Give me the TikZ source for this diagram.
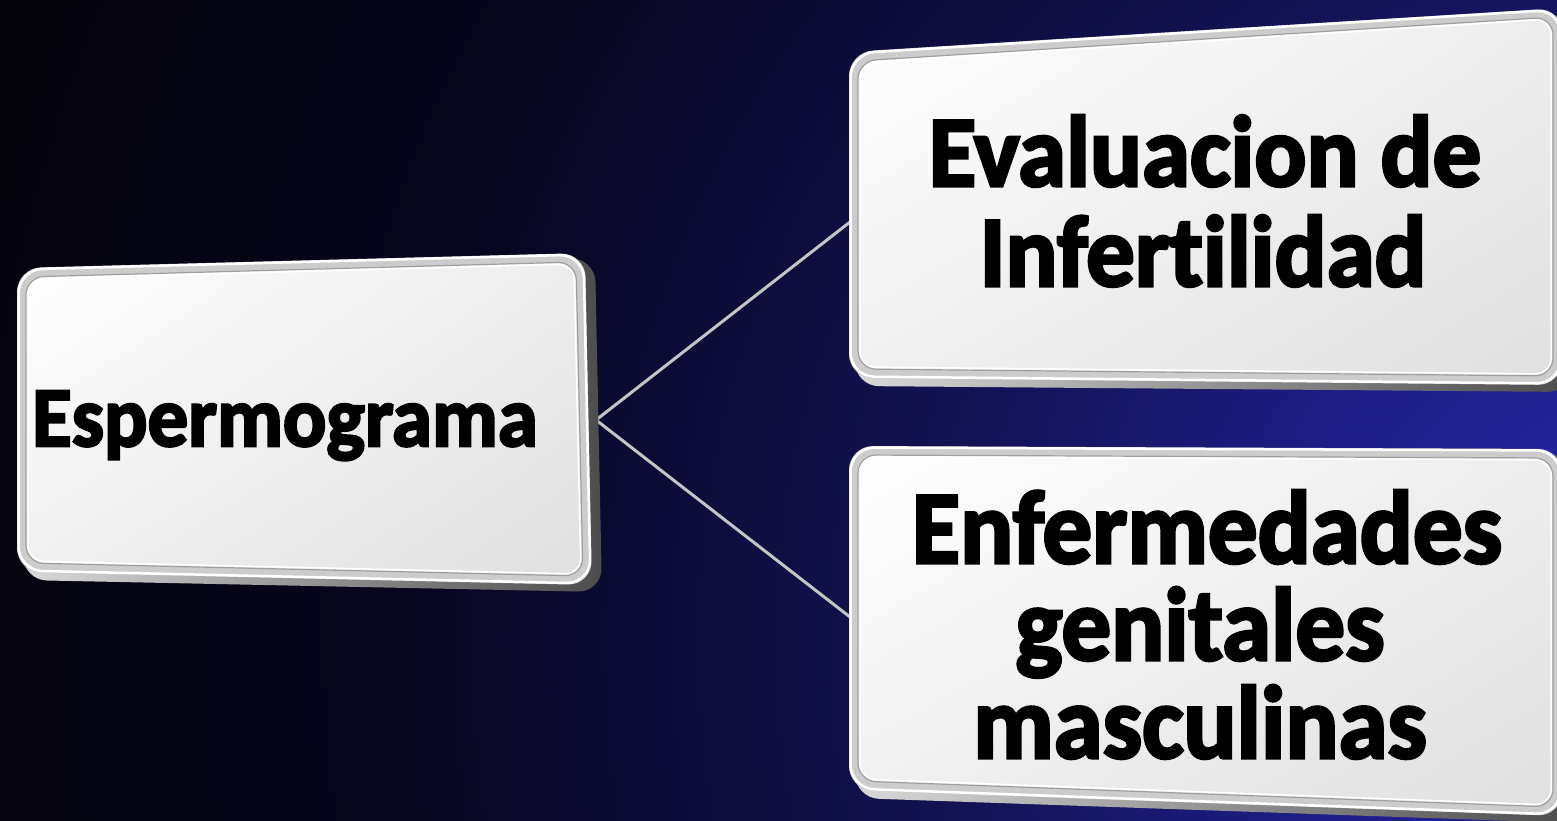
\documentclass[tikz,border=0pt]{standalone}
\usepackage{fontspec}
\setmainfont{Carlito}[Ligatures=NoCommon, BoldFeatures={FakeBold=3}]
\usetikzlibrary{calc,shadings}
\definecolor{bgdark}{HTML}{030206}
\definecolor{bgmid}{HTML}{07061E}
\definecolor{bgblue}{HTML}{2828B4}
\definecolor{linkgray}{HTML}{C4C4C4}
\pgfdeclareradialshading{bgglow}{\pgfpoint{0bp}{0bp}}{%
  color(0bp)=(bgblue);
  color(3bp)=(bgblue!75!bgmid);
  color(7bp)=(bgblue!35!bgmid);
  color(12bp)=(bgmid);
  color(18bp)=(bgdark);
  color(50bp)=(bgdark)}
\tikzset{
  lbl/.style={font=\bfseries\fontsize{#1}{#1}\selectfont, text=black, inner sep=0pt},
  link/.style={draw=linkgray, line width=3pt},
}
% #1..#8 : TL x,y  TR x,y  BR x,y  BL x,y
\newcommand\bevbox[8]{%
  \shade[rounded corners=24, left color=gray!30, right color=black!70]
    ($(#1,#2)+(6,5)$) -- ($(#3,#4)+(10,5)$) -- ($(#5,#6)+(10,7)$) -- ($(#7,#8)+(6,8)$) -- cycle;
  \fill[rounded corners=24, gray!40]
    (#1,#2) -- (#3,#4) -- (#5,#6) -- (#7,#8) -- cycle;
  \draw[rounded corners=24, white, line width=2.5pt]
    ($(#1,#2)+(1.5,1.5)$) -- ($(#3,#4)+(-1.5,1.5)$) -- ($(#5,#6)+(-1.5,-1.5)$) -- ($(#7,#8)+(1.5,-1.5)$) -- cycle;
  \shadedraw[rounded corners=18, upper left=white, upper right=white!93!black, lower left=white!94!black, lower right=white!88!black, draw=gray!75, line width=1.2pt]
    ($(#1,#2)+(9,9)$) -- ($(#3,#4)+(-9,9)$) -- ($(#5,#6)+(-9,-9)$) -- ($(#7,#8)+(9,-9)$) -- cycle;
  \draw[rounded corners=16, white, line width=1.5pt]
    ($(#1,#2)+(11,11)$) -- ($(#3,#4)+(-11,11)$) -- ($(#5,#6)+(-11,-11)$) -- ($(#7,#8)+(11,-11)$) -- cycle;
}
\begin{document}
\begin{tikzpicture}[x=1pt, y=-1pt]
\useasboundingbox (0,0) rectangle (1557,821);
% background
\begin{scope}
  \clip (0,0) rectangle (1557,821);
  \shade[shading=bgglow] (1650,640) circle (2600);
\end{scope}

% anchor points of connectors
\coordinate (espR) at (596,420);
\coordinate (evaL) at (850,222);
\coordinate (enfL) at (850,617);

% connectors (drawn first, boxes cover their ends)
\draw[link] (espR) -- (evaL);
\draw[link] (espR) -- (enfL);

% boxes
\bevbox{17}{268}{585}{253}{592}{585}{17}{572}
\bevbox{849}{52}{1562}{8}{1562}{385}{849}{378}
\bevbox{849}{446}{1562}{449}{1562}{816}{849}{790}

% texts
\node[lbl=81, anchor=base] (esp) at (285,446) {\scalebox{1}[1.05]{Espermograma}};

\node[lbl=97, anchor=base] (eva1) at (1205,186) {\scalebox{1}[1.04]{Evaluacion de}};
\node[lbl=97, anchor=base] (eva2) at (1203,286) {\scalebox{1}[1.04]{Infertilidad}};

\node[lbl=99, anchor=base] (enf1) at (1207,563) {\scalebox{1}[1.05]{Enfermedades}};
\node[lbl=99, anchor=base] (enf2) at (1200,660) {\scalebox{1}[1.05]{genitales}};
\node[lbl=99, anchor=base] (enf3) at (1200,758) {\scalebox{1}[1.05]{masculinas}};
\end{tikzpicture}
\end{document}
